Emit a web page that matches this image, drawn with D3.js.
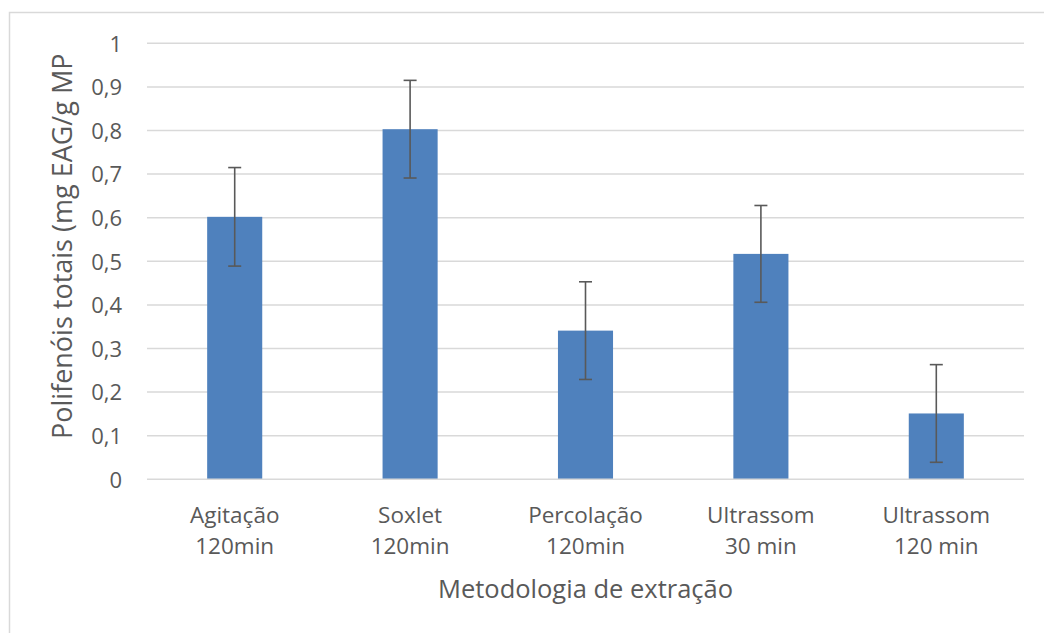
<!DOCTYPE html>
<html><head><meta charset="utf-8">
<script src="https://cdn.jsdelivr.net/npm/d3@7"></script>
<style>body{margin:0;background:#fff}svg{display:block}</style>
</head><body>
<svg id="c" width="1044" height="633"></svg>
<script>
const categories = [["Agitação","120min"],["Soxlet","120min"],["Percolação","120min"],["Ultrassom","30 min"],["Ultrassom","120 min"]];
const values = [0.602, 0.803, 0.341, 0.517, 0.151];
const errors = [0.113, 0.112, 0.112, 0.111, 0.112];
const yTicks = [0,0.1,0.2,0.3,0.4,0.5,0.6,0.7,0.8,0.9,1];
const yTitle = "Polifenóis totais (mg EAG/g MP";
const xTitle = "Metodologia de extração";

const svg = d3.select("#c");
const font = "'Open Sans', sans-serif";
const txt = "#595959";
const L = 147, R = 1024, T = 43.3, B = 479.3;

svg.append("rect").attr("x",9.5).attr("y",12.5).attr("width",1100).attr("height",700)
  .attr("fill","#fff").attr("stroke","#d9d9d9").attr("stroke-width",1.5);

const x = d3.scaleBand().domain(d3.range(categories.length)).range([L,R]).paddingInner(0.686).paddingOuter(0.343);
const y = d3.scaleLinear().domain([0,1]).range([B,T]);

const fmt = d => d===0 ? "0" : (d===1 ? "1" : d.toFixed(1).replace(".",","));

// gridlines
svg.append("g").selectAll("line").data(yTicks.filter(d=>d>0)).join("line")
  .attr("x1",L).attr("x2",R).attr("y1",d=>y(d)).attr("y2",d=>y(d))
  .attr("stroke","#d9d9d9").attr("stroke-width",1.5);

// y tick labels
const yAxis = d3.axisLeft(y).tickValues(yTicks).tickFormat(fmt).tickSize(0).tickPadding(0);
const ga = svg.append("g").attr("transform",`translate(${L-25},0)`).call(yAxis);
ga.select(".domain").remove();
ga.selectAll("text").attr("font-family",font).attr("font-size",22).attr("fill",txt).attr("dy","0.35em");

// bars
svg.append("g").selectAll("rect").data(values).join("rect")
  .attr("x",(d,i)=>x(i)).attr("width",x.bandwidth())
  .attr("y",d=>y(d)).attr("height",d=>B-y(d)).attr("fill","#4f81bd");

// baseline
svg.append("line").attr("x1",L).attr("x2",R).attr("y1",B).attr("y2",B)
  .attr("stroke","#d9d9d9").attr("stroke-width",1.5);

// error bars
const eg = svg.append("g").attr("stroke","#595959").attr("stroke-width",1.6);
values.forEach((v,i)=>{
  const cx = x(i)+x.bandwidth()/2;
  eg.append("line").attr("x1",cx).attr("x2",cx).attr("y1",y(v+errors[i])).attr("y2",y(v-errors[i]));
  [v+errors[i], v-errors[i]].forEach(e=>{
    eg.append("line").attr("x1",cx-6.5).attr("x2",cx+6.5).attr("y1",y(e)).attr("y2",y(e));
  });
});

// category labels
const xg = svg.append("g");
categories.forEach((c,i)=>{
  const cx = x(i)+x.bandwidth()/2;
  const t = xg.append("text").attr("x",cx).attr("text-anchor","middle")
    .attr("font-family",font).attr("font-size",22.5).attr("fill",txt);
  t.append("tspan").attr("x",cx).attr("y",523).text(c[0]);
  t.append("tspan").attr("x",cx).attr("y",554).text(c[1]);
});

// axis titles
svg.append("text").attr("x",(L+R)/2).attr("y",598).attr("text-anchor","middle")
  .attr("font-family",font).attr("font-size",25.5).attr("fill",txt).text(xTitle);
svg.append("text").attr("transform",`translate(72,${(T+B)/2-15}) rotate(-90)`).attr("text-anchor","middle")
  .attr("font-family",font).attr("font-size",27).attr("fill",txt).text(yTitle);
</script>
</body></html>
